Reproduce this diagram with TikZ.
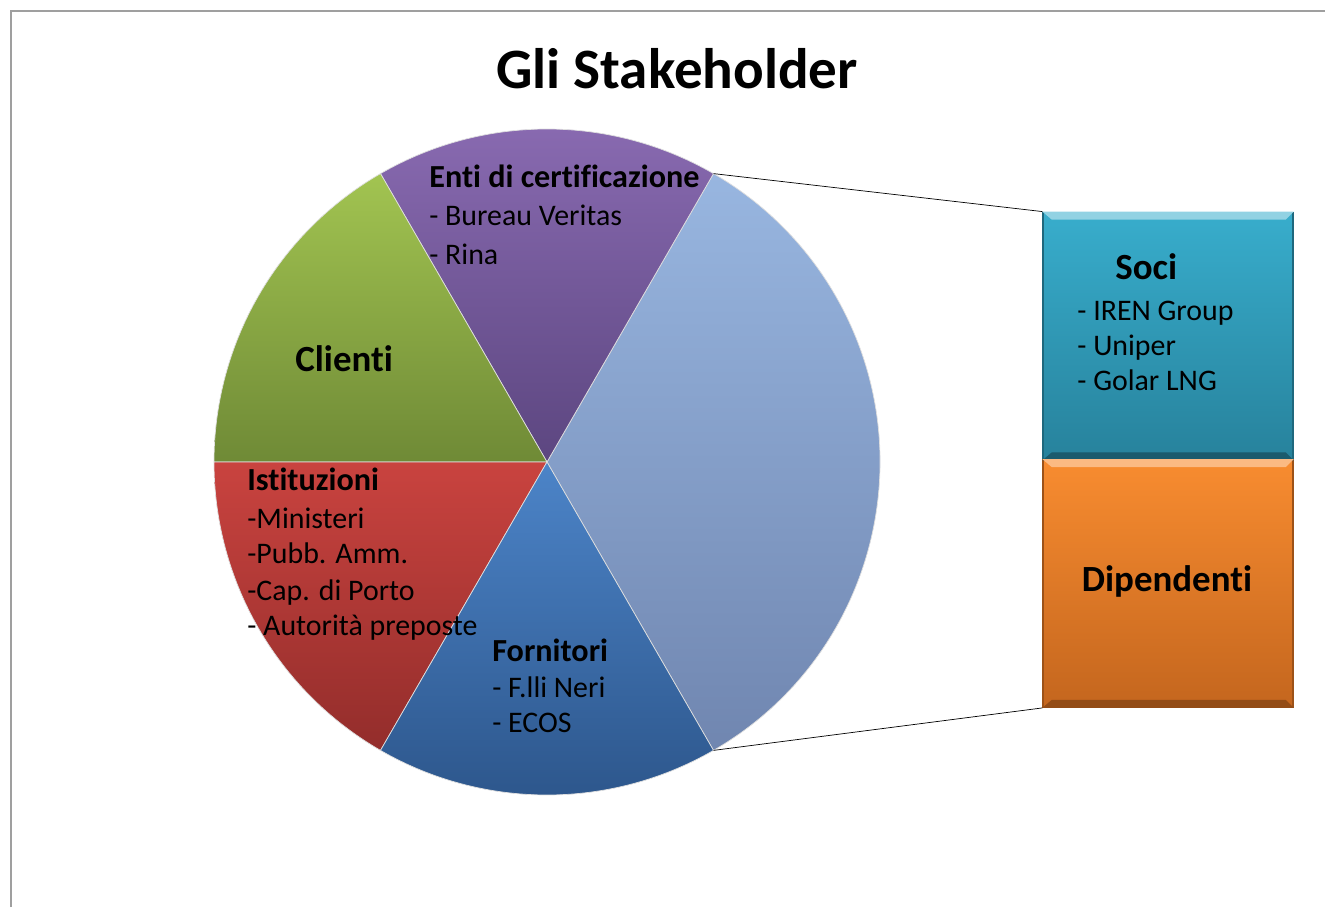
\documentclass[tikz,border=0pt]{standalone}
\usepackage{fontspec}
\setmainfont[Ligatures=NoCommon]{Carlito}
\definecolor{entiA}{HTML}{8A6BB2}
\definecolor{entiB}{HTML}{5C4680}
\definecolor{clientiA}{HTML}{A2C451}
\definecolor{clientiB}{HTML}{6F8A36}
\definecolor{istA}{HTML}{C9433F}
\definecolor{istB}{HTML}{932D2B}
\definecolor{fornA}{HTML}{4C84C8}
\definecolor{fornB}{HTML}{2C558A}
\definecolor{restA}{HTML}{98B6E0}
\definecolor{restB}{HTML}{7086B0}
\definecolor{sociA}{HTML}{38ADCC}
\definecolor{sociB}{HTML}{27829C}
\definecolor{dipA}{HTML}{F88C30}
\definecolor{dipB}{HTML}{C4661E}
\begin{document}
\begin{tikzpicture}[x=0.02cm,y=0.02cm,
  slice/.style={draw=white!75!gray, line width=0.4pt},
  boxbar/.style={minimum width=5cm, minimum height=4.95cm, inner sep=0pt, line width=0.8pt},
  item/.style={anchor=base west, inner sep=0pt, font=\fontsize{17}{21}\selectfont},
  head/.style={anchor=base west, inner sep=0pt, font=\fontsize{18.3}{22}\selectfont\bfseries},
  bighead/.style={head, font=\fontsize{21}{25}\selectfont\bfseries}]
\useasboundingbox (0,0) rectangle (1325,907);
\draw[gray!75, line width=1.2pt] (11,0) -- (11,896) -- (1325,896);

\node (title) at (677,838) {\fontsize{32.5}{40}\selectfont\bfseries Gli Stakeholder};

% pie
\coordinate (c) at (547,445);
\path (c) ++(60:333) coordinate (p60);
\path (c) ++(-60:333) coordinate (p300);
\path[slice, top color=restA, bottom color=restB] (c) -- ++(-60:333) arc[start angle=-60, end angle=60, radius=333] -- cycle;
\path[slice, top color=entiA, bottom color=entiB] (c) -- ++(60:333) arc[start angle=60, end angle=120, radius=333] -- cycle;
\path[slice, top color=clientiA, bottom color=clientiB] (c) -- ++(120:333) arc[start angle=120, end angle=180, radius=333] -- cycle;
\path[slice, top color=istA, bottom color=istB] (c) -- ++(180:333) arc[start angle=180, end angle=240, radius=333] -- cycle;
\path[slice, top color=fornA, bottom color=fornB] (c) -- ++(240:333) arc[start angle=240, end angle=300, radius=333] -- cycle;

% bar
\node[boxbar, draw=sociB!80!black, top color=sociA, bottom color=sociB] (soci) at (1168,571) {};
\node[boxbar, draw=dipB!80!black, top color=dipA, bottom color=dipB] (dip) at (1168,323.5) {};
\fill[sociA!55!white] (soci.north west) -- (soci.north east) -- ++(-8,-8) -- ++(-234,0) -- cycle;
\fill[sociB!70!black] (soci.south west) -- (soci.south east) -- ++(-8,8) -- ++(-234,0) -- cycle;
\fill[dipA!60!white] (dip.north west) -- (dip.north east) -- ++(-8,-8) -- ++(-234,0) -- cycle;
\fill[dipB!75!black] (dip.south west) -- (dip.south east) -- ++(-8,8) -- ++(-234,0) -- cycle;
\draw (p60) -- (soci.north west);
\draw (p300) -- (dip.south west);

% labels
\node[head] (enti) at (429,719) {Enti di certificazione};
\node[item] (enti1) at (429,681) {- Bureau Veritas};
\node[item] (enti2) at (429,642) {- Rina};

\node[bighead] (clienti) at (295,535) {Clienti};

\node[head] (ist) at (247,417) {Istituzioni};
\node[item] (ist1) at (247,379) {-Ministeri};
\node[item] (ist2) at (247,344) {-Pubb. Amm.};
\node[item] (ist3) at (247,307) {-Cap. di Porto};
\node[item] (ist4) at (247,272) {- Autorità preposte};

\node[head] (forn) at (492,246) {Fornitori};
\node[item] (forn1) at (492,210) {- F.lli Neri};
\node[item] (forn2) at (492,175) {- ECOS};

\node[bighead] (socit) at (1115,627) {Soci};
\node[item] (soci1) at (1077,586) {- IREN Group};
\node[item] (soci2) at (1077,551) {- Uniper};
\node[item] (soci3) at (1077,516) {- Golar LNG};

\node[bighead, anchor=base] (dipt) at (1167,316) {Dipendenti};
\end{tikzpicture}
\end{document}
